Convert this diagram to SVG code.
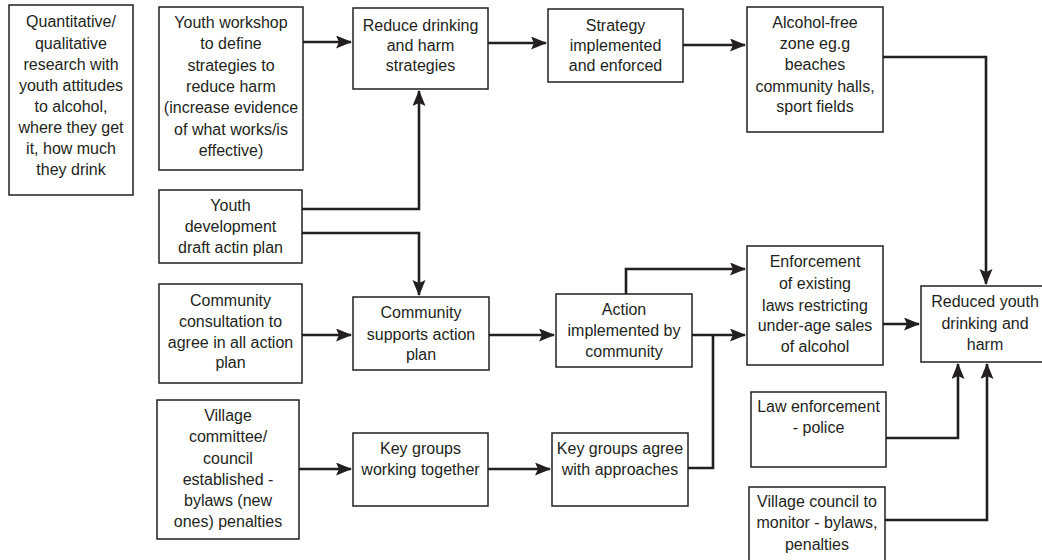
<svg xmlns="http://www.w3.org/2000/svg" width="1042" height="560" viewBox="0 0 1042 560">
<style>
.box{fill:#fff;stroke:#231f20;stroke-width:1.5}
.t{font-family:"Liberation Sans",Arial,sans-serif;font-size:16px;fill:#231f20;text-anchor:middle}
.c{fill:none;stroke:#231f20;stroke-width:2.6}
</style>
<defs>
<marker id="ah" markerUnits="userSpaceOnUse" markerWidth="16" markerHeight="14" refX="15" refY="6.5" orient="auto">
<path d="M0,0 L16,6.5 L0,13 L3,6.5 z" fill="#231f20"/>
</marker>
</defs>
<rect width="1042" height="560" fill="#fff"/>
<g id="connectors">
<path class="c" d="M303,42 H351" marker-end="url(#ah)"/>
<path class="c" d="M488,43 H546" marker-end="url(#ah)"/>
<path class="c" d="M683,45 H745" marker-end="url(#ah)"/>
<path class="c" d="M883,57 H986 V284" marker-end="url(#ah)"/>
<path class="c" d="M302,209 H419 V91" marker-end="url(#ah)"/>
<path class="c" d="M302,233 H419 V295" marker-end="url(#ah)"/>
<path class="c" d="M302,335 H351" marker-end="url(#ah)"/>
<path class="c" d="M489,335 H554" marker-end="url(#ah)"/>
<path class="c" d="M626,294 V269 H745" marker-end="url(#ah)"/>
<path class="c" d="M692,335 H745" marker-end="url(#ah)"/>
<path class="c" d="M688,468 H713 V335"/>
<path class="c" d="M883,324 H919" marker-end="url(#ah)"/>
<path class="c" d="M886,438 H958 V364" marker-end="url(#ah)"/>
<path class="c" d="M885,520 H987 V364" marker-end="url(#ah)"/>
<path class="c" d="M299,469 H351" marker-end="url(#ah)"/>
<path class="c" d="M488,469 H550" marker-end="url(#ah)"/>
</g>
<g id="research">
<rect class="box" x="9" y="5" width="124" height="190"/>
<text class="t" x="71" y="27">Quantitative/</text>
<text class="t" x="71" y="48.5">qualitative</text>
<text class="t" x="71" y="69.5">research with</text>
<text class="t" x="71" y="90.5">youth attitudes</text>
<text class="t" x="71" y="111.5">to alcohol,</text>
<text class="t" x="71" y="133">where they get</text>
<text class="t" x="71" y="154">it, how much</text>
<text class="t" x="71" y="175">they drink</text>
</g>
<g id="workshop">
<rect class="box" x="159" y="7" width="144" height="163"/>
<text class="t" x="231" y="27.5">Youth workshop</text>
<text class="t" x="231" y="49">to define</text>
<text class="t" x="231" y="70.5">strategies to</text>
<text class="t" x="231" y="91.5">reduce harm</text>
<text class="t" x="231" y="113">(increase evidence</text>
<text class="t" x="231" y="134.5">of what works/is</text>
<text class="t" x="231" y="156">effective)</text>
</g>
<g id="reduce-strategies">
<rect class="box" x="353" y="8" width="135" height="81"/>
<text class="t" x="420.5" y="30.5">Reduce drinking</text>
<text class="t" x="420.5" y="50.5">and harm</text>
<text class="t" x="420.5" y="70.5">strategies</text>
</g>
<g id="strategy-implemented">
<rect class="box" x="548" y="9" width="135" height="73"/>
<text class="t" x="615.5" y="30.5">Strategy</text>
<text class="t" x="615.5" y="50.5">implemented</text>
<text class="t" x="615.5" y="70.5">and enforced</text>
</g>
<g id="alcohol-free">
<rect class="box" x="747" y="7" width="136" height="125"/>
<text class="t" x="815" y="28">Alcohol-free</text>
<text class="t" x="815" y="49">zone eg.g</text>
<text class="t" x="815" y="70">beaches</text>
<text class="t" x="815" y="91.5">community halls,</text>
<text class="t" x="815" y="112">sport fields</text>
</g>
<g id="youth-development">
<rect class="box" x="159" y="190" width="143" height="73"/>
<text class="t" x="230.5" y="210.5">Youth</text>
<text class="t" x="230.5" y="231.5">development</text>
<text class="t" x="230.5" y="253">draft actin plan</text>
</g>
<g id="consultation">
<rect class="box" x="159" y="284" width="143" height="99"/>
<text class="t" x="230.5" y="305.5">Community</text>
<text class="t" x="230.5" y="326.5">consultation to</text>
<text class="t" x="230.5" y="348">agree in all action</text>
<text class="t" x="230.5" y="367.5">plan</text>
</g>
<g id="community-supports">
<rect class="box" x="353" y="297" width="136" height="73"/>
<text class="t" x="421" y="318">Community</text>
<text class="t" x="421" y="339.5">supports action</text>
<text class="t" x="421" y="360">plan</text>
</g>
<g id="action-implemented">
<rect class="box" x="556" y="294" width="136" height="73"/>
<text class="t" x="624" y="314.5">Action</text>
<text class="t" x="624" y="335.5">implemented by</text>
<text class="t" x="624" y="357">community</text>
</g>
<g id="enforcement">
<rect class="box" x="747" y="246" width="136" height="119"/>
<text class="t" x="815" y="267">Enforcement</text>
<text class="t" x="815" y="289">of existing</text>
<text class="t" x="815" y="310.5">laws restricting</text>
<text class="t" x="815" y="331">under-age sales</text>
<text class="t" x="815" y="352">of alcohol</text>
</g>
<g id="reduced-youth">
<rect class="box" x="921" y="286" width="128" height="76"/>
<text class="t" x="985" y="307">Reduced youth</text>
<text class="t" x="985" y="329">drinking and</text>
<text class="t" x="985" y="349.5">harm</text>
</g>
<g id="law-enforcement">
<rect class="box" x="751" y="392" width="135" height="75"/>
<text class="t" x="818.5" y="412">Law enforcement</text>
<text class="t" x="818.5" y="433">- police</text>
</g>
<g id="village-monitor">
<rect class="box" x="749" y="487" width="136" height="78"/>
<text class="t" x="817" y="507">Village council to</text>
<text class="t" x="817" y="528">monitor - bylaws,</text>
<text class="t" x="817" y="549.5">penalties</text>
</g>
<g id="village-committee">
<rect class="box" x="157" y="400" width="142" height="139"/>
<text class="t" x="228" y="420.5">Village</text>
<text class="t" x="228" y="442">committee/</text>
<text class="t" x="228" y="464">council</text>
<text class="t" x="228" y="484.5">established -</text>
<text class="t" x="228" y="505.5">bylaws (new</text>
<text class="t" x="228" y="527">ones) penalties</text>
</g>
<g id="key-working">
<rect class="box" x="353" y="433" width="135" height="73"/>
<text class="t" x="420.5" y="454">Key groups</text>
<text class="t" x="420.5" y="474.5">working together</text>
</g>
<g id="key-agree">
<rect class="box" x="552" y="433" width="136" height="73"/>
<text class="t" x="620" y="454">Key groups agree</text>
<text class="t" x="620" y="475">with approaches</text>
</g>
</svg>
